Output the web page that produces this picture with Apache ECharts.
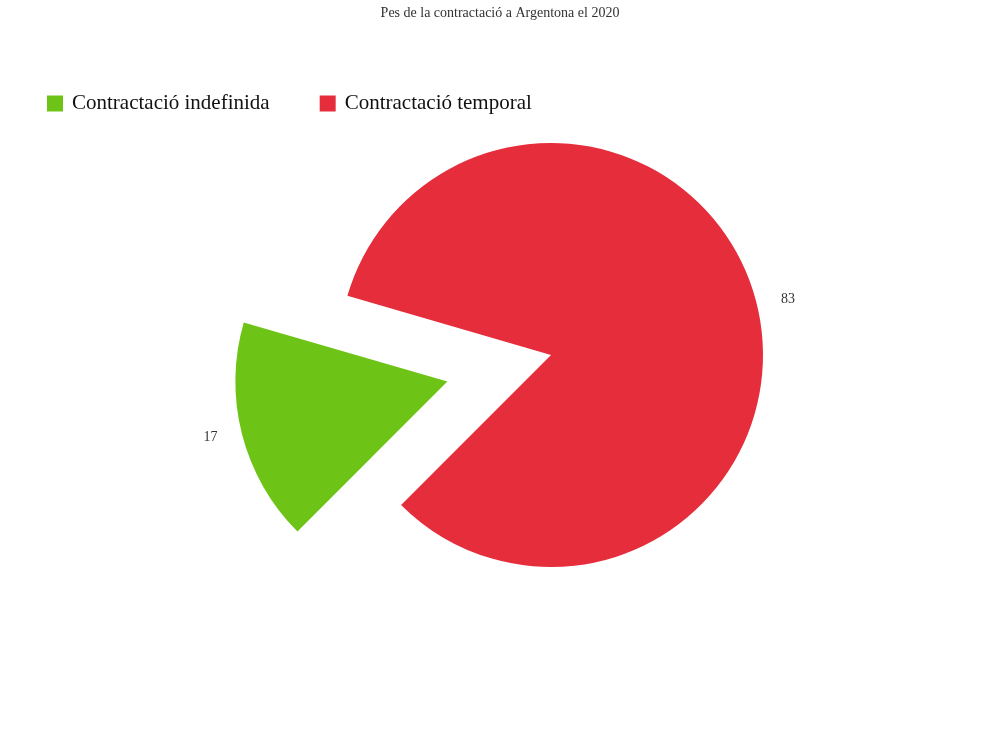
<!DOCTYPE html>
<html>
<head>
<meta charset="utf-8">
<script src="https://cdn.jsdelivr.net/npm/echarts@6/dist/echarts.min.js"></script>
<style>
  html, body { margin: 0; padding: 0; background: #fff; }
  #chart { width: 1000px; height: 736px; }
</style>
</head>
<body>
<div id="chart"></div>
<script>
const categories = ["Contractació indefinida", "Contractació temporal"];
const values = [17, 83];
const colors = ["#6dc416", "#e52d3b"];

const serif = "'Liberation Serif', 'Times New Roman', serif";

const chart = echarts.init(document.getElementById("chart"));
chart.setOption({
  animation: false,
  textStyle: { fontFamily: serif },
  title: {
    text: "Pes de la contractació a Argentona el 2020",
    left: "center",
    top: 1,
    textStyle: { fontFamily: serif, fontSize: 14, fontWeight: "normal", color: "#333" }
  },
  legend: {
    data: categories,
    left: 42,
    top: 88,
    itemWidth: 16,
    itemHeight: 16,
    itemGap: 50,
    icon: "rect",
    textStyle: { fontFamily: serif, fontSize: 21, color: "#111", padding: [6, 0, 0, 4] }
  },
  series: [{
    type: "pie",
    center: [551, 355],
    radius: 212,
    startAngle: 225,
    clockwise: true,
    selectedMode: "single",
    selectedOffset: 107,
    label: {
      show: true,
      position: "outside",
      formatter: "{c}",
      fontFamily: serif,
      fontSize: 14,
      color: "#333"
    },
    labelLine: { show: false, length: 12, length2: 8 },
    emphasis: { scale: false },
    data: categories.map((name, i) => ({
      name,
      value: values[i],
      selected: i === 0,
      itemStyle: { color: colors[i] }
    }))
  }]
});
</script>
</body>
</html>
